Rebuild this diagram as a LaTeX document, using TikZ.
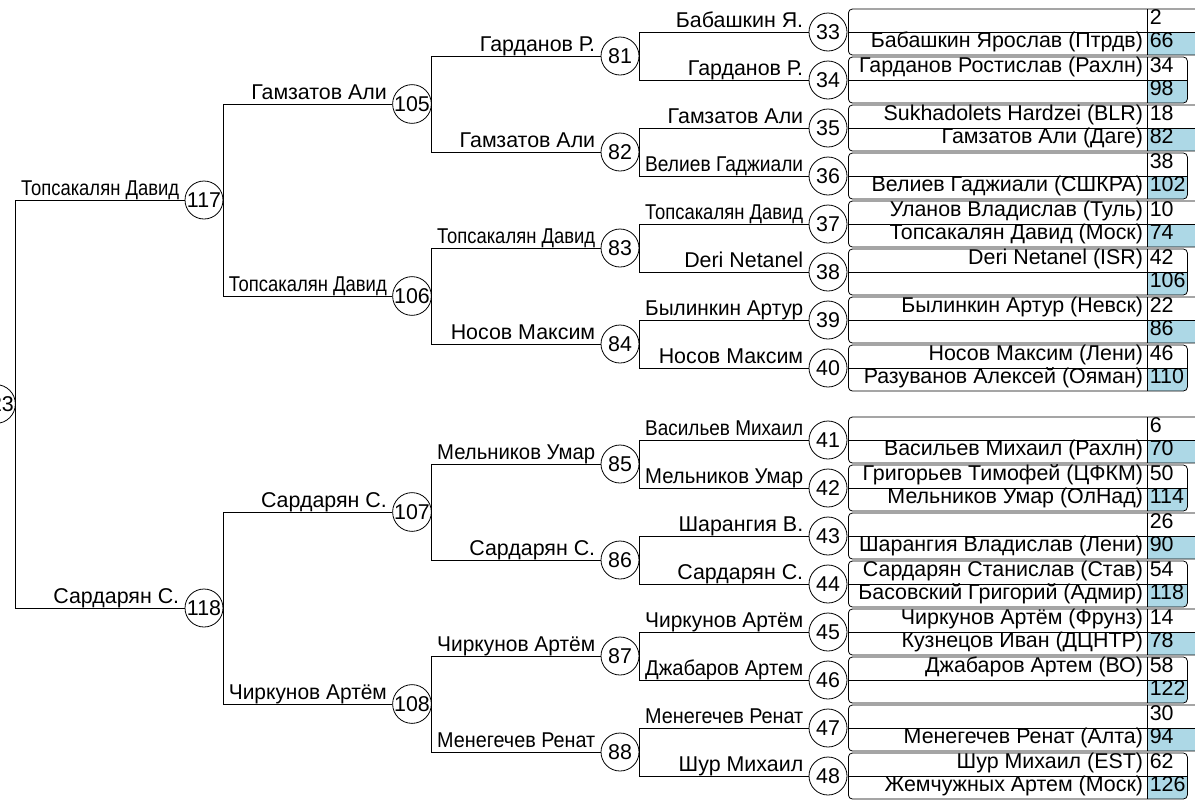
\documentclass[tikz,border=0pt]{standalone}
\usepackage{fontspec}
\setmainfont{Liberation Sans}
\usepackage{graphicx}
\definecolor{winbg}{RGB}{173,216,230}
\tikzset{
	% circled match numbers, winner labels and the entry boxes
	match node/.style={circle,draw,inner sep=0,minimum size=38pt},
	name tag/.style={anchor=base east,inner sep=0},
	entry box/.style={inner sep=0,outer sep=0,minimum height=46pt,anchor=west},
	cell text/.style={inner sep=0}
}

\begin{document}
\begin{tikzpicture}[x=1pt,y=1pt,font=\fontsize{21.4}{24}\selectfont,line width=0.8pt,
	grow'=right,edge from parent path={(\tikzparentnode.east) |- (\tikzchildnode.west)}]
	\useasboundingbox (0,0) rectangle (1195,-801);
	% macro for squeezing long names into the line
	\newcommand{\fitname}[1]{\sbox0{#1}\ifdim\wd0>158pt\resizebox{158pt}{\height}{#1}\else#1\fi}
	% macro for the winner above each line
	\newcommand{\winner}[2]{\node[name tag]at([xshift=-5pt,yshift=5pt]#1.west){\fitname{#2}};}
	% macro for the entry box of a first round match
	\newcommand{\entry}[6]{
		\node(e#1)[entry box,minimum width=#2]at([xshift=1pt]#1.east){};
		\begin{scope}
			\clip[rounded corners=4pt](e#1.north west)rectangle(e#1.south east);
			\fill[winbg]([xshift=299pt]e#1.west)rectangle(e#1.south east);
		\end{scope}
		\draw[rounded corners=4pt](e#1.north west)rectangle(e#1.south east);
		\draw(e#1.west)--(e#1.east);
		\draw([xshift=299pt]e#1.north west)--([xshift=299pt]e#1.south west);
		\node[cell text,anchor=base east]at([xshift=295pt,yshift=7.5pt]e#1.west){#3};
		\node[cell text,anchor=base west]at([xshift=301pt,yshift=7.5pt]e#1.west){#4};
		\node[cell text,anchor=base east]at([xshift=295pt,yshift=-15.5pt]e#1.west){#5};
		\node[cell text,anchor=base west]at([xshift=301pt,yshift=-15.5pt]e#1.west){#6};
	}
	% Specify spacing for each round
	\tikzstyle{level 1}=[level distance=208pt,sibling distance=408pt]
	\tikzstyle{level 2}=[level distance=208pt,sibling distance=192pt]
	\tikzstyle{level 3}=[level distance=208pt,sibling distance=96pt]
	\tikzstyle{level 4}=[level distance=208pt,sibling distance=48pt]
	
	\node(123)[match node]at(-4,-404){123}
	child{
		node(117)[match node]{117}
		child{
			node(105)[match node]{105}
			child{
				node(81)[match node]{81}
				child{node(33)[match node]{33}}
				child{node(34)[match node]{34}}
			}
			child{
				node(82)[match node]{82}
				child{node(35)[match node]{35}}
				child{node(36)[match node]{36}}
			}
		}
		child{
			node(106)[match node]{106}
			child{
				node(83)[match node]{83}
				child{node(37)[match node]{37}}
				child{node(38)[match node]{38}}
			}
			child{
				node(84)[match node]{84}
				child{node(39)[match node]{39}}
				child{node(40)[match node]{40}}
			}
		}
	}
	child{
		node(118)[match node]{118}
		child{
			node(107)[match node]{107}
			child{
				node(85)[match node]{85}
				child{node(41)[match node]{41}}
				child{node(42)[match node]{42}}
			}
			child{
				node(86)[match node]{86}
				child{node(43)[match node]{43}}
				child{node(44)[match node]{44}}
			}
		}
		child{
			node(108)[match node]{108}
			child{
				node(87)[match node]{87}
				child{node(45)[match node]{45}}
				child{node(46)[match node]{46}}
			}
			child{
				node(88)[match node]{88}
				child{node(47)[match node]{47}}
				child{node(48)[match node]{48}}
			}
		}
	};
	
	\winner{117}{Топсакалян Давид}
	\winner{118}{Сардарян С.}
	\winner{105}{Гамзатов Али}
	\winner{106}{Топсакалян Давид}
	\winner{107}{Сардарян С.}
	\winner{108}{Чиркунов Артём}
	\winner{81}{Гарданов Р.}
	\winner{82}{Гамзатов Али}
	\winner{83}{Топсакалян Давид}
	\winner{84}{Носов Максим}
	\winner{85}{Мельников Умар}
	\winner{86}{Сардарян С.}
	\winner{87}{Чиркунов Артём}
	\winner{88}{Менегечев Ренат}
	\winner{33}{Бабашкин Я.}
	\winner{34}{Гарданов Р.}
	\winner{35}{Гамзатов Али}
	\winner{36}{Велиев Гаджиали}
	\winner{37}{Топсакалян Давид}
	\winner{38}{Deri Netanel}
	\winner{39}{Былинкин Артур}
	\winner{40}{Носов Максим}
	\winner{41}{Васильев Михаил}
	\winner{42}{Мельников Умар}
	\winner{43}{Шарангия В.}
	\winner{44}{Сардарян С.}
	\winner{45}{Чиркунов Артём}
	\winner{46}{Джабаров Артем}
	\winner{47}{Менегечев Ренат}
	\winner{48}{Шур Михаил}
	
	\entry{33}{352pt}{}{2}{Бабашкин Ярослав (Птрдв)}{66}
	\entry{34}{339pt}{Гарданов Ростислав (Рахлн)}{34}{}{98}
	\entry{35}{352pt}{Sukhadolets Hardzei (BLR)}{18}{Гамзатов Али (Даге)}{82}
	\entry{36}{339pt}{}{38}{Велиев Гаджиали (СШКРА)}{102}
	\entry{37}{352pt}{Уланов Владислав (Туль)}{10}{Топсакалян Давид (Моск)}{74}
	\entry{38}{339pt}{Deri Netanel (ISR)}{42}{}{106}
	\entry{39}{352pt}{Былинкин Артур (Невск)}{22}{}{86}
	\entry{40}{339pt}{Носов Максим (Лени)}{46}{Разуванов Алексей (Ояман)}{110}
	\entry{41}{352pt}{}{6}{Васильев Михаил (Рахлн)}{70}
	\entry{42}{339pt}{Григорьев Тимофей (ЦФКМ)}{50}{Мельников Умар (ОлНад)}{114}
	\entry{43}{352pt}{}{26}{Шарангия Владислав (Лени)}{90}
	\entry{44}{339pt}{Сардарян Станислав (Став)}{54}{Басовский Григорий (Адмир)}{118}
	\entry{45}{352pt}{Чиркунов Артём (Фрунз)}{14}{Кузнецов Иван (ДЦНТР)}{78}
	\entry{46}{339pt}{Джабаров Артем (ВО)}{58}{}{122}
	\entry{47}{352pt}{}{30}{Менегечев Ренат (Алта)}{94}
	\entry{48}{339pt}{Шур Михаил (EST)}{62}{Жемчужных Артем (Моск)}{126}
\end{tikzpicture}
\end{document}
